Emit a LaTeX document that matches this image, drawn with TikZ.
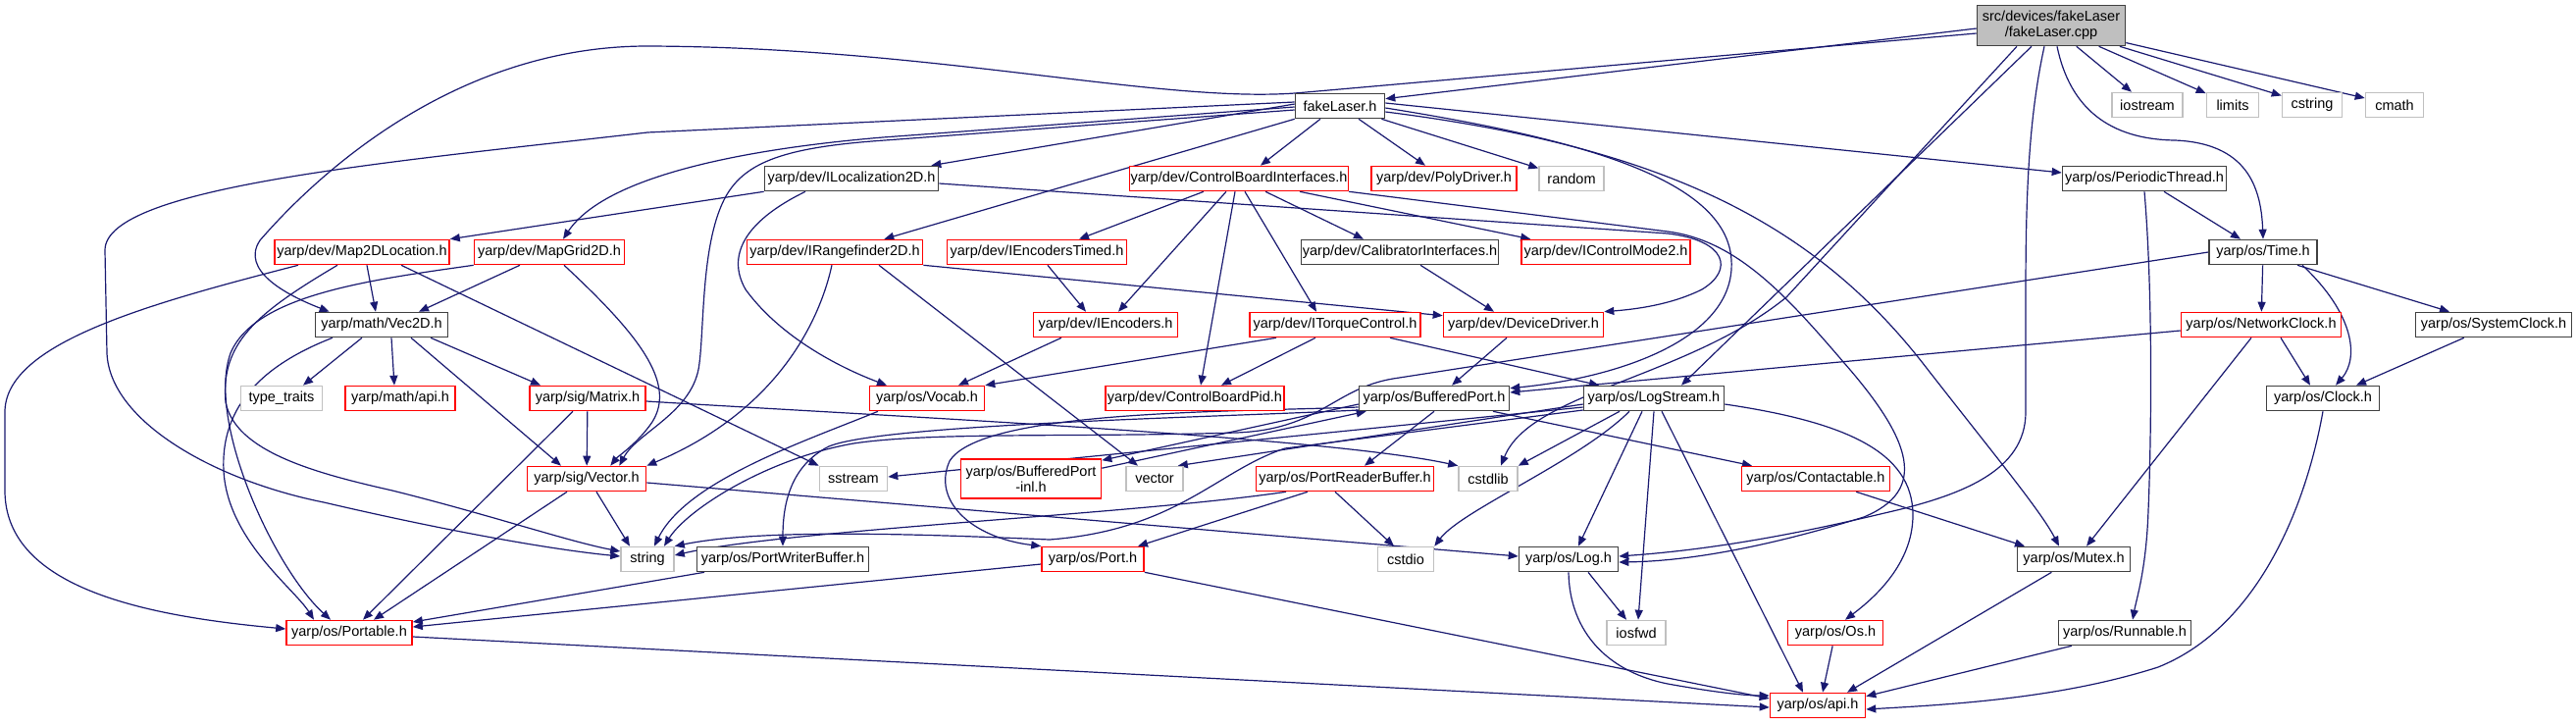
\documentclass[tikz,border=0pt]{standalone}
\usepackage{fontspec}
\setmainfont{Liberation Sans}
\usetikzlibrary{arrows.meta}
\definecolor{edgeblue}{HTML}{191970}
\definecolor{sysgray}{HTML}{C0C0C0}
\definecolor{cppfill}{HTML}{BFBFBF}
\definecolor{docborder}{HTML}{404040}
\pgfdeclarelayer{bglayer}
\pgfdeclarelayer{edgelayer}
\pgfsetlayers{bglayer,edgelayer,main}
\begin{document}
\begin{tikzpicture}[x=1pt,y=-1pt,
  box/.style={rectangle, draw, fill=white, line width=1.6pt, minimum height=25pt, inner xsep=1pt, inner ysep=1pt, font=\fontsize{14.5}{16.5}\selectfont, anchor=center},
  doc/.style={box, draw=docborder},
  inc/.style={box, draw=red},
  sys/.style={box, draw=sysgray},
  dep/.style={draw=edgeblue, line width=1.2pt, -{Triangle[length=10pt,width=8pt]}},
]
\useasboundingbox (0,0) rectangle (2626,739);
\begin{pgfonlayer}{bglayer}
\fill[white] (0,0) rectangle (2626,739);
\end{pgfonlayer}
% ---------- nodes ----------
\node[box, draw=docborder, fill=cppfill, minimum width=151pt, minimum height=41pt, align=center] (cpp) at (2091,26) {src/devices/fakeLaser\\/fakeLaser.cpp};
\node[doc, minimum width=91pt] (flh) at (1366,108) {fakeLaser.h};
\node[sys, minimum width=72pt] (iostream) at (2189,107) {iostream};
\node[sys, minimum width=53pt] (limits) at (2276,107) {limits};
\node[sys, minimum width=61pt] (cstring) at (2357,107) {cstring};
\node[sys, minimum width=59pt] (cmath) at (2441,107) {cmath};
\node[doc, minimum width=177pt] (iloc) at (868,182) {yarp/dev/ILocalization2D.h};
\node[inc, minimum width=222pt] (cbi) at (1263,182) {yarp/dev/ControlBoardInterfaces.h};
\node[inc, minimum width=148pt] (poly) at (1472,182) {yarp/dev/PolyDriver.h};
\node[sys, minimum width=66pt] (random) at (1602,182) {random};
\node[doc, minimum width=167pt] (pthread) at (2186,182) {yarp/os/PeriodicThread.h};
\node[inc, minimum width=178pt] (m2dl) at (369,257) {yarp/dev/Map2DLocation.h};
\node[inc, minimum width=153pt] (mg2d) at (560,257) {yarp/dev/MapGrid2D.h};
\node[inc, minimum width=179pt] (irange) at (851,257) {yarp/dev/IRangefinder2D.h};
\node[inc, minimum width=183pt] (ienct) at (1057,257) {yarp/dev/IEncodersTimed.h};
\node[doc, minimum width=201pt] (calib) at (1427,257) {yarp/dev/CalibratorInterfaces.h};
\node[inc, minimum width=172pt] (icm2) at (1637,257) {yarp/dev/IControlMode2.h};
\node[doc, minimum width=110pt] (time) at (2307,257) {yarp/os/Time.h};
\node[doc, minimum width=135pt] (vec2d) at (389,331) {yarp/math/Vec2D.h};
\node[inc, minimum width=147pt] (ienc) at (1127,331) {yarp/dev/IEncoders.h};
\node[inc, minimum width=174pt] (itorque) at (1361,331) {yarp/dev/ITorqueControl.h};
\node[inc, minimum width=163pt] (devdrv) at (1553,331) {yarp/dev/DeviceDriver.h};
\node[inc, minimum width=163pt] (netclock) at (2305,331) {yarp/os/NetworkClock.h};
\node[doc, minimum width=159pt] (sysclock) at (2542,331) {yarp/os/SystemClock.h};
\node[sys, minimum width=83pt] (typetraits) at (287,406) {type\_traits};
\node[inc, minimum width=112pt] (mathapi) at (408,406) {yarp/math/api.h};
\node[inc, minimum width=118pt] (matrix) at (599,406) {yarp/sig/Matrix.h};
\node[inc, minimum width=117pt] (vocab) at (945,406) {yarp/os/Vocab.h};
\node[inc, minimum width=182pt] (cbpid) at (1218,406) {yarp/dev/ControlBoardPid.h};
\node[doc, minimum width=153pt] (bport) at (1462,406) {yarp/os/BufferedPort.h};
\node[doc, minimum width=143pt] (logstream) at (1686,406) {yarp/os/LogStream.h};
\node[doc, minimum width=115pt] (clock) at (2368,406) {yarp/os/Clock.h};
\node[inc, minimum width=121pt] (sigvector) at (598,488) {yarp/sig/Vector.h};
\node[sys, minimum width=69pt] (sstream) at (870,488) {sstream};
\node[inc, minimum width=143pt, minimum height=40pt, align=center] (bpinl) at (1051,488) {yarp/os/BufferedPort\\-inl.h};
\node[sys, minimum width=58pt] (stdvector) at (1177,488) {vector};
\node[inc, minimum width=181pt] (preader) at (1371,488) {yarp/os/PortReaderBuffer.h};
\node[sys, minimum width=60pt] (cstdlib) at (1517,488) {cstdlib};
\node[inc, minimum width=151pt] (contact) at (1851,488) {yarp/os/Contactable.h};
\node[sys, minimum width=54pt] (string) at (660,570) {string};
\node[doc, minimum width=175pt] (pwriter) at (798,570) {yarp/os/PortWriterBuffer.h};
\node[inc, minimum width=104pt] (port) at (1114,570) {yarp/os/Port.h};
\node[sys, minimum width=57pt] (cstdio) at (1433,570) {cstdio};
\node[doc, minimum width=101pt] (log) at (1599,570) {yarp/os/Log.h};
\node[doc, minimum width=115pt] (mutex) at (2114,570) {yarp/os/Mutex.h};
\node[inc, minimum width=128pt] (portable) at (356,645) {yarp/os/Portable.h};
\node[sys, minimum width=60pt] (iosfwd) at (1668,645) {iosfwd};
\node[inc, minimum width=97pt] (os) at (1871,645) {yarp/os/Os.h};
\node[doc, minimum width=135pt] (runnable) at (2166,645) {yarp/os/Runnable.h};
\node[inc, minimum width=97pt] (api) at (1853,719) {yarp/os/api.h};
% ---------- edges ----------
\begin{pgfonlayer}{edgelayer}
% cpp
\draw[dep] ([yshift=-3pt]cpp.west) -- ([yshift=-6pt]flh.north east);
\draw[dep] ([yshift=-8pt]cpp.west) -- (1320,95) .. controls (1180,105) and (950,48) .. (660,47) .. controls (470,47) and (330,170) .. (265,245) .. controls (245,275) and (290,300) .. ([xshift=15pt]vec2d.north west);
\draw[dep] (cpp) -- (iostream);
\draw[dep] (cpp) -- (limits);
\draw[dep] (cpp) -- (cstring);
\draw[dep] (cpp) -- (cmath);
\draw[dep] ([xshift=6pt]cpp.south) .. controls (2110,110) and (2150,142) .. (2217,143) .. controls (2290,146) and (2305,190) .. (time.north);
\draw[dep] ([xshift=-7pt]cpp.south) .. controls (2068,120) and (2065,200) .. (2065,300) -- (2065,420) .. controls (2065,480) and (2000,505) .. (1921,523) .. controls (1800,552) and (1720,562) .. ([yshift=3pt]log.east);
\draw[dep] ([xshift=-20pt]cpp.south) -- ([xshift=28pt]logstream.north);
\draw[dep] ([xshift=-35pt]cpp.south) -- (1821,303) .. controls (1720,385) and (1560,400) .. ([xshift=13pt]cstdlib.north);
% fakeLaser.h
\draw[dep] ([yshift=2pt]flh.west) -- ([xshift=-8pt]iloc.north east);
\draw[dep] ([yshift=-1pt]flh.west) -- (900,140) .. controls (780,150) and (620,175) .. ([xshift=14pt]mg2d.north);
\draw[dep] ([yshift=-4pt]flh.west) -- (902,143) .. controls (800,150) and (760,165) .. (740,200) .. controls (715,245) and (718,330) .. (713,370) .. controls (708,420) and (650,440) .. ([xshift=-28pt]sigvector.north east);
\draw[dep] ([yshift=4pt]flh.west) -- (660,135) .. controls (400,165) and (107,190) .. (107,255) -- (109,360) .. controls (112,430) and (220,490) .. (330,512) .. controls (450,540) and (560,560) .. ([yshift=3pt]string.west);
\draw[dep] (flh.south west) -- ([xshift=-40pt]irange.north east);
\draw[dep] ([xshift=-20pt]flh.south) -- ([xshift=22pt]cbi.north);
\draw[dep] (flh) -- (poly);
\draw[dep] (flh) -- (random);
\draw[dep] ([yshift=3pt]flh.east) -- ([yshift=6pt]pthread.west);
\draw[dep] ([yshift=-2pt]flh.east) .. controls (1600,140) and (1760,180) .. (1765,265) .. controls (1770,345) and (1650,385) .. ([yshift=-3pt]bport.north east);
\draw[dep] ([yshift=-6pt]flh.east) .. controls (1700,150) and (1850,230) .. (1960,370) .. controls (2030,460) and (2080,520) .. ([xshift=-15pt]mutex.north);
% ILocalization2D
\draw[dep] (iloc.south west) -- (m2dl.north east);
\draw[dep] ([xshift=-47pt]iloc.south) .. controls (760,225) and (740,260) .. (760,295) .. controls (800,350) and (870,380) .. ([xshift=-41pt]vocab.north);
\draw[dep] ([yshift=-5pt]iloc.east) -- (1700,238) .. controls (1760,245) and (1768,275) .. (1735,295) .. controls (1705,310) and (1670,315) .. (devdrv.north east);
% ControlBoardInterfaces
\draw[dep] ([xshift=-36pt]cbi.south) -- ([xshift=43pt]ienct.north);
\draw[dep] ([xshift=-13pt]cbi.south) -- ([xshift=13pt]ienc.north);
\draw[dep] ([xshift=-4pt]cbi.south) -- ([xshift=6pt]cbpid.north);
\draw[dep] ([xshift=6pt]cbi.south) -- ([xshift=-19pt]itorque.north);
\draw[dep] ([xshift=27pt]cbi.south) -- ([xshift=-37pt]calib.north);
\draw[dep] ([xshift=62pt]cbi.south) -- ([xshift=10pt]icm2.north west);
\draw[dep] (cbi.south east) -- (1700,236) .. controls (1770,245) and (1820,300) .. (1880,370) .. controls (1950,450) and (1965,500) .. (1900,527) .. controls (1800,558) and (1720,572) .. ([yshift=-3pt]log.east);
% IRangefinder2D
\draw[dep] (irange.south east) -- ([yshift=-4pt]devdrv.north west);
\draw[dep] ([xshift=-3pt]irange.south) .. controls (835,330) and (790,420) .. (sigvector.north east);
\draw[dep] ([xshift=45pt]irange.south) -- ([xshift=-17pt]stdvector.north);
% encoders, torque, calibrator, device driver
\draw[dep] (ienct) -- ([xshift=-20pt]ienc.north);
\draw[dep] ([xshift=-45pt]ienc.south) -- ([xshift=32pt]vocab.north);
\draw[dep] ([xshift=-60pt]itorque.south) -- (vocab.north east);
\draw[dep] ([xshift=-20pt]itorque.south) -- ([xshift=27pt]cbpid.north);
\draw[dep] ([xshift=56pt]itorque.south) -- ([xshift=-56pt]logstream.north);
\draw[dep] (calib) -- ([xshift=-30pt]devdrv.north);
\draw[dep] ([xshift=-17pt]devdrv.south) -- ([xshift=18pt]bport.north);
% Map2DLocation
\draw[dep] ([xshift=5pt]m2dl.south) -- ([xshift=-6pt]vec2d.north);
\draw[dep] ([xshift=40pt]m2dl.south) -- (sstream.north west);
\draw[dep] ([xshift=-65pt]m2dl.south) .. controls (150,310) and (5,350) .. (5,420) -- (5,500) .. controls (5,600) and (150,628) .. ([yshift=4pt]portable.west);
\draw[dep] ([xshift=-25pt]m2dl.south) .. controls (260,320) and (225,350) .. (230,410) .. controls (240,460) and (320,482) .. (400,500) .. controls (500,525) and (580,552) .. ([yshift=8pt]string.west);
% MapGrid2D
\draw[dep] ([xshift=-30pt]mg2d.south) -- ([xshift=38pt]vec2d.north);
\draw[dep] ([xshift=15pt]mg2d.south) .. controls (650,340) and (690,390) .. (665,430) .. controls (650,452) and (630,465) .. ([xshift=-37pt]sigvector.north east);
\draw[dep] (mg2d.south west) .. controls (380,285) and (260,300) .. (235,360) .. controls (210,430) and (280,580) .. ([xshift=-19pt]portable.north);
% Vec2D
\draw[dep] ([xshift=-20pt]vec2d.south) -- ([xshift=22pt]typetraits.north);
\draw[dep] ([xshift=10pt]vec2d.south) -- ([xshift=-6pt]mathapi.north);
\draw[dep] ([xshift=30pt]vec2d.south) -- ([xshift=-26pt]sigvector.north);
\draw[dep] ([xshift=50pt]vec2d.south) -- ([xshift=-48pt]matrix.north);
\draw[dep] ([xshift=-50pt]vec2d.south) .. controls (260,375) and (225,420) .. (228,480) .. controls (232,550) and (300,600) .. ([xshift=-36pt]portable.north);
% Matrix, Vector
\draw[dep] (matrix) -- (sigvector);
\draw[dep] ([xshift=-15pt]matrix.south) -- ([xshift=14pt]portable.north);
\draw[dep] ([yshift=-3pt]matrix.east) .. controls (900,424) and (1350,445) .. (cstdlib.north west);
\draw[dep] ([xshift=10pt]sigvector.south) -- ([xshift=-18pt]string.north);
\draw[dep] ([xshift=-20pt]sigvector.south) -- ([xshift=25pt]portable.north);
\draw[dep] ([yshift=-4pt]sigvector.east) -- ([yshift=3pt]log.west);
% Vocab
\draw[dep] ([xshift=-50pt]vocab.south) .. controls (820,450) and (700,490) .. ([xshift=7pt]string.north);
% BufferedPort
\draw[dep] (bport.south) -- ([xshift=20pt]preader.north);
\draw[dep] ([xshift=60pt]bport.south) -- ([xshift=-65pt]contact.north);
\draw[dep] ([yshift=-6pt]bport.west) -- ([yshift=-2pt]bpinl.north east);
\draw[dep] ([yshift=-10pt]bpinl.north east) -- ([xshift=8pt]bport.south west);
\draw[dep] ([yshift=-9pt]bport.west) .. controls (1250,420) and (1000,418) .. (968,470) .. controls (950,510) and (990,548) .. (port.north west);
\draw[dep] ([yshift=-12pt]bport.west) .. controls (1250,425) and (900,432) .. (845,455) .. controls (805,475) and (798,515) .. (pwriter.north);
% LogStream
\draw[dep] ([xshift=-35pt]logstream.south) -- (cstdlib.north east);
\draw[dep] ([xshift=-25pt]logstream.south) .. controls (1610,470) and (1490,520) .. (cstdio.north east);
\draw[dep] ([xshift=-12pt]logstream.south) -- ([xshift=10pt]log.north);
\draw[dep] (logstream.south) -- ([xshift=2pt]iosfwd.north);
\draw[dep] ([xshift=8pt]logstream.south) -- ([xshift=-15pt]api.north);
\draw[dep] ([yshift=-6pt]logstream.east) .. controls (1880,430) and (1950,460) .. (1950,525) .. controls (1950,575) and (1910,610) .. ([xshift=10pt]os.north);
\draw[dep] ([yshift=-6pt]logstream.west) -- ([xshift=-6pt]stdvector.north east);
\draw[dep] ([yshift=-9pt]logstream.west) -- ([yshift=2pt]sstream.east);
\draw[dep] ([yshift=-12pt]logstream.west) -- (1310,457) .. controls (1240,480) and (1200,540) .. (1070,550) .. controls (950,545) and (780,538) .. (string.north east);
% PortReaderBuffer, Port, PortWriterBuffer
\draw[dep] ([xshift=-38pt]preader.south) -- ([xshift=46pt]port.north);
\draw[dep] ([xshift=-10pt]preader.south) -- ([xshift=-12pt]cstdio.north);
\draw[dep] ([xshift=-60pt]preader.south) .. controls (1150,525) and (800,540) .. ([yshift=4pt]string.east);
\draw[dep] ([yshift=-5pt]port.west) -- ([yshift=6pt]portable.east);
\draw[dep] (port.south east) -- ([yshift=7pt]api.west);
\draw[dep] ([xshift=-80pt]pwriter.south) -- ([yshift=11pt]portable.east);
\draw[dep] ([yshift=-4pt]portable.east) -- ([yshift=-2pt]api.west);
% Log and the rest
\draw[dep] (log.south) .. controls (1600,645) and (1640,685) .. (1700,697) .. controls (1750,706) and (1780,709) .. ([yshift=10pt]api.west);
\draw[dep] ([xshift=20pt]log.south) -- ([xshift=-10pt]iosfwd.north);
\draw[dep] (contact) -- ([xshift=-50pt]mutex.north);
\draw[dep] (mutex) -- ([xshift=30pt]api.north);
\draw[dep] (runnable) -- ([yshift=-4pt]api.north east);
\draw[dep] (os) -- ([xshift=5pt]api.north);
\draw[dep] (clock.south) .. controls (2350,520) and (2300,640) .. (2200,680) .. controls (2100,712) and (1990,718) .. ([yshift=-4pt]api.east);
% Time and clocks
\draw[dep] ([xshift=20pt]pthread.south) -- ([xshift=-23pt]time.north);
\draw[dep] (pthread.south) .. controls (2195,300) and (2193,450) .. (2190,520) .. controls (2188,580) and (2178,610) .. ([xshift=8pt]runnable.north);
\draw[dep] (time) -- (netclock);
\draw[dep] ([xshift=35pt]time.south) -- ([xshift=-45pt]sysclock.north);
\draw[dep] ([xshift=40pt]time.south) .. controls (2400,320) and (2405,365) .. ([xshift=13pt]clock.north);
\draw[dep] (time.west) -- (1420,386) .. controls (1360,396) and (1345,438) .. (1260,441) .. controls (1100,446) and (950,440) .. (870,452) .. controls (780,468) and (700,520) .. ([xshift=17pt]string.north);
\draw[dep] ([yshift=-6pt]netclock.west) -- ([yshift=6pt]bport.east);
\draw[dep] ([xshift=-10pt]netclock.south) -- ([xshift=13pt]mutex.north);
\draw[dep] ([xshift=20pt]netclock.south) -- ([xshift=-13pt]clock.north);
\draw[dep] (sysclock) -- ([xshift=34pt]clock.north);
\end{pgfonlayer}
\end{tikzpicture}
\end{document}
